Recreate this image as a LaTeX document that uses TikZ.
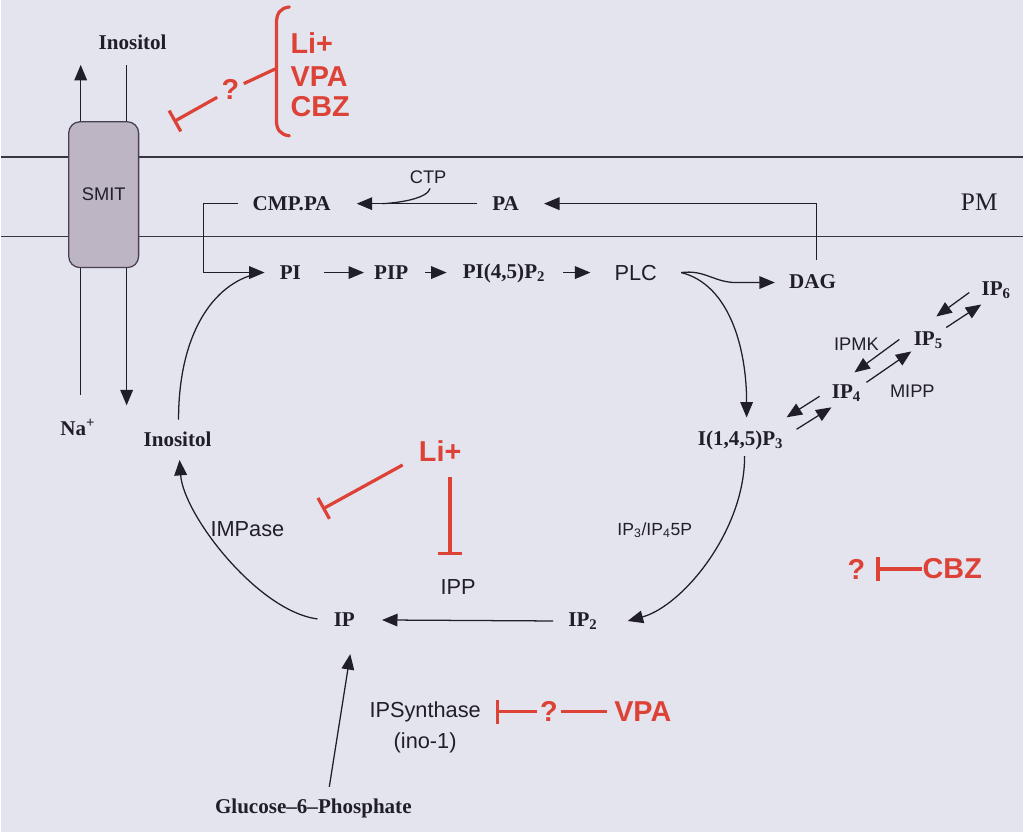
\documentclass[tikz,border=0pt]{standalone}
\usepackage{fontspec}
\setmainfont{Liberation Serif}
\setsansfont{Liberation Sans}
\usetikzlibrary{arrows.meta,calc}
\definecolor{bg}{RGB}{228,228,239}
\definecolor{ink}{RGB}{32,30,38}
\definecolor{memc}{RGB}{55,53,63}
\definecolor{myred}{RGB}{221,66,55}
\definecolor{smitfill}{RGB}{189,180,196}
\definecolor{boxedge}{RGB}{70,65,75}
\tikzset{
  bs/.style={font=\fontsize{15}{17}\selectfont\bfseries, text=ink, inner sep=0pt},
  ss/.style={font=\sffamily\fontsize{15.5}{18}\selectfont, text=ink, inner sep=0pt},
  sm/.style={font=\sffamily\fontsize{13}{15}\selectfont, text=ink, inner sep=0pt},
  rs/.style={font=\sffamily\bfseries\fontsize{20.5}{23}\selectfont, text=myred, inner sep=0pt},
  arr/.style={-{Triangle[length=11pt,width=9pt]}, line width=0.9pt, draw=ink},
  plain/.style={line width=0.9pt, draw=ink},
  mem/.style={line width=1.2pt, draw=memc},
  inh/.style={-{Bar[width=17pt]}, line width=2.3pt, draw=myred},
  rl/.style={line width=2.3pt, draw=myred}
}
\begin{document}
\begin{tikzpicture}[x=0.025cm,y=-0.025cm]
\path[fill=bg] (0,0) rectangle (1024,833);
% membrane
\draw[mem] (0,157) -- (1024,157);
\draw[mem] (0,237) -- (1024,237);
% SMIT transporter
\node[draw=boxedge, fill=smitfill, rounded corners=8pt, minimum width=1.75cm, minimum height=3.65cm, line width=0.9pt, sm] (smit) at (103,195) {SMIT};
\coordinate (upTip) at (80,65);
\coordinate (inTop) at (126,65);
\coordinate (naEnd) at (80,396);
\coordinate (inEnd) at (126,406);
\draw[arr] (smit.north -| upTip) -- (upTip);
\draw[plain] (inTop) -- (smit.north -| inTop);
\draw[plain] (smit.south -| naEnd) -- (naEnd);
\draw[arr] (smit.south -| inEnd) -- (inEnd);
% labels
\node[bs] (inosTop) at (132,42) {Inositol};
\node[bs] (na) at (77,428) {Na\textsuperscript{+}};
\node[bs] (inos2) at (177,440) {Inositol};
\node[font=\fontsize{18}{20}\selectfont, text=ink, inner sep=0pt] (pm) at (980,203) {PM};
\node[bs, anchor=west] (cmp) at (252,204) {CMP.PA};
\node[bs, anchor=west] (pa) at (492,204) {PA};
\node[sm] (ctp) at (428,178) {CTP};
\node[bs] (pi) at (290,273) {PI};
\node[bs] (pip) at (391,273) {PIP};
\node[bs] (pi45) at (504,274) {PI(4,5)P\textsubscript{2}};
\node[ss] (plc) at (636,273) {PLC};
\node[bs] (dag) at (813,282) {DAG};
\node[bs] (ip3) at (741,441) {I(1,4,5)P\textsubscript{3}};
\node[bs] (ip4) at (847,394) {IP\textsubscript{4}};
\node[bs] (ip5) at (929,341) {IP\textsubscript{5}};
\node[bs] (ip6) at (997,291) {IP\textsubscript{6}};
\node[sm] (ipmk) at (857,345) {IPMK};
\node[sm] (mipp) at (913,392) {MIPP};
\node[ss] (impase) at (247,530) {IMPase};
\node[font=\sffamily\fontsize{12.5}{14}\selectfont, text=ink, inner sep=0pt] (ip345) at (655,531) {IP\textsubscript{3}/IP\textsubscript{4}5P};
\node[ss] (ipp) at (458,588) {IPP};
\node[bs] (ip) at (344,621) {IP};
\node[bs] (ip2) at (583,622) {IP\textsubscript{2}};
\node[ss] (ips) at (425,713) {IPSynthase};
\node[ss] (ino1) at (425,744) {(ino-1)};
\node[bs] (glu) at (313,810) {Glucose--6--Phosphate};
% red labels
\node[rs, anchor=west] (li1) at (290,43) {Li+};
\node[rs, anchor=west] (vpa1) at (290,77) {VPA};
\node[rs, anchor=west] (cbz1) at (290,107) {CBZ};
\node[rs, inner sep=3pt] (q1) at (230,90) {?};
\node[rs] (li2) at (440,452) {Li+};
\node[rs, inner sep=2pt] (q3) at (857,570) {?};
\node[rs] (cbz2) at (953,570) {CBZ};
\node[rs, inner sep=2pt] (q4) at (549,713) {?};
\node[rs] (vpa2) at (643,713) {VPA};
% red brace and inhibitions
\coordinate (braceMid) at (275,69);
\draw[rl, line cap=round] (289,7) .. controls (280,8) and (276,13) .. (276,24) -- (276,120) .. controls (276,130) and (280,135) .. (289,136);
\draw[rl] (q1) -- (braceMid);
\coordinate (smitHit) at (173,122);
\draw[inh] (q1) -- (smitHit);
\coordinate (impHit) at (322,510);
\draw[inh] ($(li2.south west)+(-16,3)$) -- (impHit);
\coordinate (ippHit) at (450,556);
\draw[inh] ($(li2.south)+(10,15)$) -- (ippHit);
\coordinate (cbzHit) at (877,570);
\draw[inh] (cbz2) -- (cbzHit);
\coordinate (ipsHit) at (496,713);
\draw[inh] (q4) -- (ipsHit);
\draw[rl, shorten <=5pt] (vpa2) -- (q4);
% membrane lipid pathway
\draw[arr] ($(pa.west)+(-15,0)$) -- ($(cmp.east)+(26,0)$);
\draw[plain] ($(ctp.south)+(2,4)$) .. controls +(-3,10) and +(18,-1) .. ($(cmp.east)+(52,0)$);
\coordinate (dagUp) at ($(dag.north)+(4,-14)$);
\draw[arr] (dagUp) |- ($(pa.east)+(25,0)$);
\draw[arr] ($(cmp.west)+(-14,0)$) -- ($(cmp.west)+(-49,0)$) |- ($(pi.west)+(-15,0)$);
\draw[arr] ($(pi.east)+(23,0)$) -- ($(pip.west)+(-10,0)$);
\draw[arr] ($(pip.east)+(17,0)$) -- ($(pi45.west)+(-16,-1)$);
\draw[arr] ($(pi45.east)+(18,-1)$) -- ($(plc.west)+(-24,0)$);
\coordinate (plcOut) at ($(plc.east)+(24,0)$);
\draw[arr] (plcOut) .. controls +(24,-3) and +(-22,0) .. ($(plcOut)+(55,10)$) -- ($(dag.west)+(-14,1)$);
\draw[arr] (plcOut) .. controls +(48,12) and +(0,-70) .. ($(ip3.north)+(6,-13)$);
% inositol phosphate interconversions
\draw[arr] ($(ip4)+(-27,3)$) -- ($(ip3)+(46,-23)$);
\draw[arr] ($(ip3)+(56,-11)$) -- ($(ip4)+(-15,14)$);
\draw[arr] ($(ip5)+(-29,-1)$) -- ($(ip4)+(8,-21)$);
\draw[arr] ($(ip4)+(20,-11)$) -- ($(ip5)+(-17,11)$);
\draw[arr] ($(ip6)+(-27,2)$) -- ($(ip5)+(8,-24)$);
\draw[arr] ($(ip5)+(18,-13)$) -- ($(ip6)+(-15,14)$);
% recycling
\draw[arr] ($(ip3.south)+(4,6)$) .. controls +(0,75) and +(55,-15) .. ($(ip2.east)+(30,0)$);
\draw[arr] ($(ip2.west)+(-15,0)$) -- ($(ip.east)+(27,0)$);
\draw[arr] ($(ip.west)+(-16,-1)$) .. controls +(-60,-8) and +(4,55) .. ($(inos2.south)+(2,13)$);
\draw[plain] ($(inos2.north)+(1,-12)$) .. controls +(0,-85) and +(-45,10) .. ($(pi.west)+(-22,1)$);
\draw[arr] ($(glu.north)+(16,-12)$) -- ($(ip.south)+(6,27)$);
\end{tikzpicture}
\end{document}
